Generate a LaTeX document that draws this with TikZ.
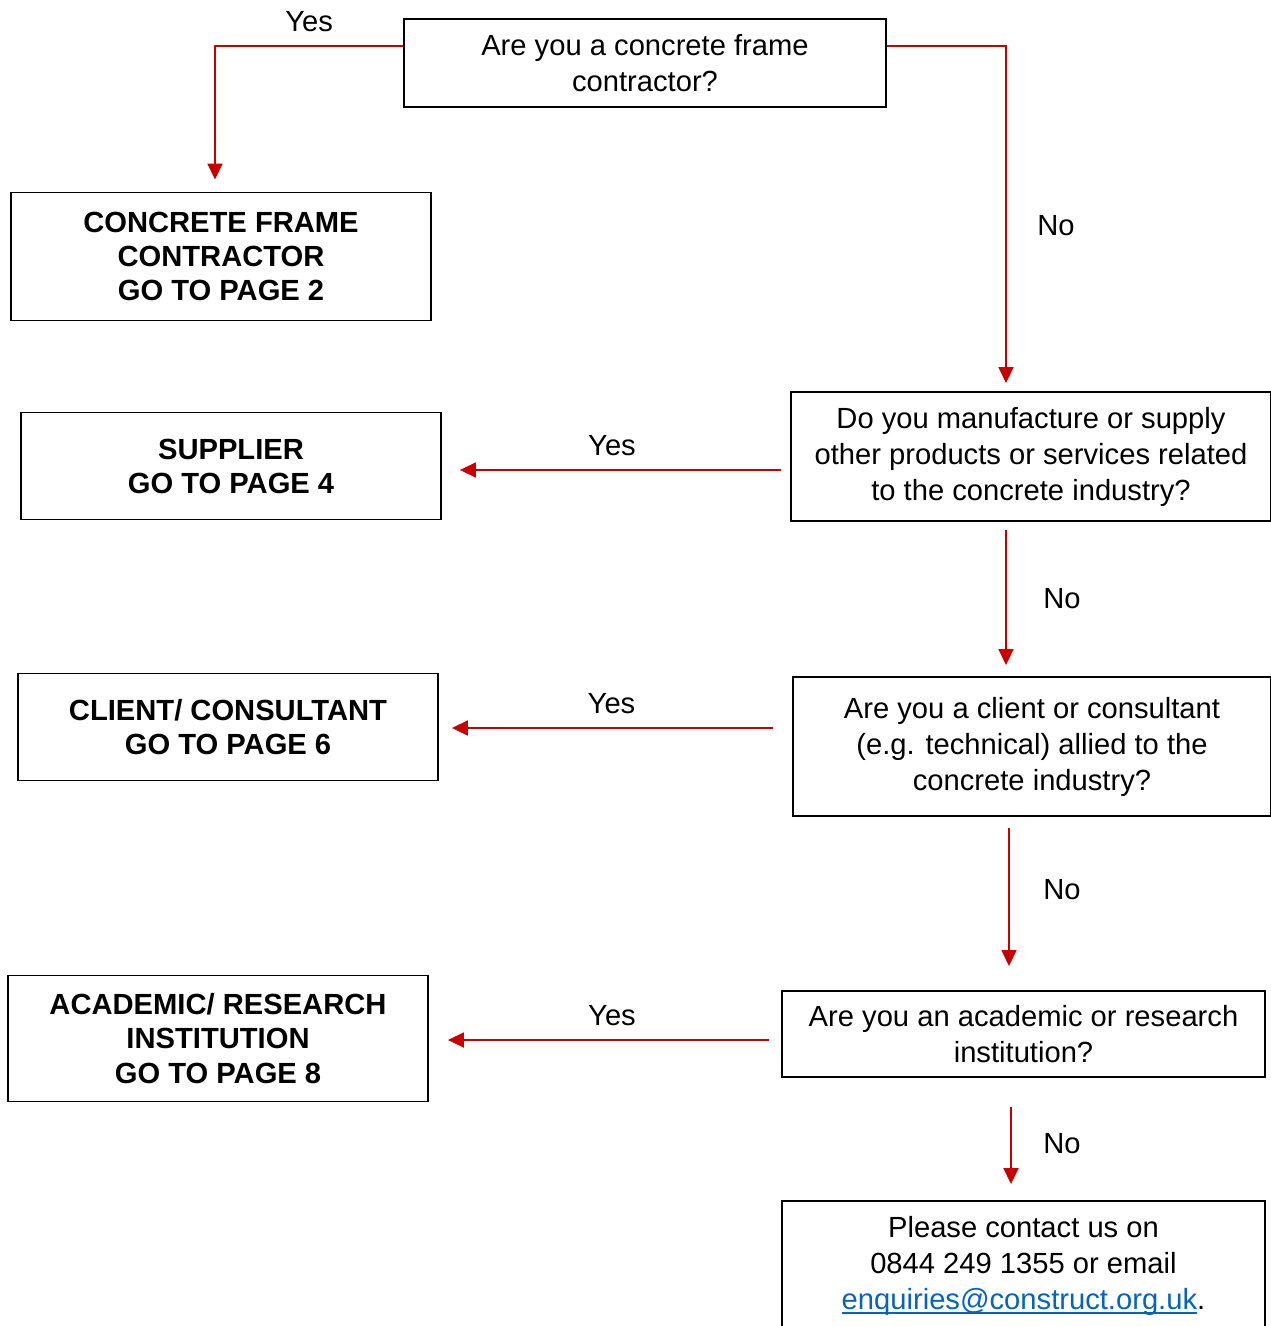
\documentclass[tikz,border=0pt]{standalone}
\usepackage{fontspec}
\setmainfont{Liberation Sans}
\usepackage{xcolor}
\usetikzlibrary{arrows.meta}
\definecolor{arrowred}{RGB}{200,0,0}
\definecolor{linkblue}{RGB}{5,99,193}
\newcommand\weblink[1]{\setbox0\hbox{#1}\rlap{\color{linkblue}\rule[-2.4pt]{\wd0}{1.1pt}}\textcolor{linkblue}{\box0}}

\begin{document}
\begin{tikzpicture}[x=0.02cm, y=-0.02cm,
font=\fontsize{16.6}{20.5}\selectfont,
box/.style={draw, line width=1.1pt, align=center, inner sep=0pt},
goto/.style={box, minimum width=8.4cm, font=\fontsize{16.6}{19.4}\selectfont\bfseries},
arr/.style={draw=arrowred, line width=1pt, -{Triangle[length=0.32cm, width=0.3cm]}},
]
\useasboundingbox (0,0) rectangle (1271,1326);
\clip (0,0) rectangle (1271,1326);

	\node[box, minimum width=9.64cm, minimum height=1.76cm] (q1) at (645,63) {Are you a concrete frame\\contractor?};
	\node[goto, minimum height=2.56cm] (a1) at (221,256.5) {CONCRETE FRAME\\CONTRACTOR\\GO TO PAGE 2};
	\node[box, minimum width=9.6cm, minimum height=2.58cm] (q2) at (1031,456.5) {Do you manufacture or supply\\other products or services related\\to the concrete industry?};
	\node[goto, minimum height=2.14cm] (a2) at (231,466) {SUPPLIER\\GO TO PAGE 4};
	\node[box, minimum width=9.56cm, minimum height=2.78cm] (q3) at (1032,746.5) {Are you a client or consultant\\(e.g. technical) allied to the\\concrete industry?};
	\node[goto, minimum height=2.14cm] (a3) at (228,727) {CLIENT/ CONSULTANT\\GO TO PAGE 6};
	\node[box, minimum width=9.66cm, minimum height=1.72cm] (q4) at (1023.5,1034) {Are you an academic or research\\institution?};
	\node[goto, minimum height=2.52cm] (a4) at (218,1038.5) {ACADEMIC/ RESEARCH\\INSTITUTION\\GO TO PAGE 8};
	\node[box, minimum width=9.66cm, minimum height=2.6cm] (q5) at (1023.5,1266) {Please contact us on\\0844 249 1355 or email\\\weblink{enquiries@construct.org.uk}.};

	\draw[arr, shorten >=0.24cm] (q1.west |- 0,46) -| ([xshift=-0.12cm]a1.north)
		node[pos=0.25, yshift=0.48cm, text=black] {Yes};
	\draw[arr, shorten >=0.16cm] (q1.east |- 0,46) -| ([xshift=-0.5cm]q2.north)
		node[pos=0.75, xshift=1cm, yshift=-0.14cm, text=black] {No};

	\draw[arr, shorten <=0.18cm, shorten >=0.36cm] (q2.west |- 0,470) -- (a2.east |- 0,470)
		node[midway, xshift=-0.08cm, yshift=0.48cm, text=black] {Yes};
	\draw[arr, shorten <=0.16cm, shorten >=0.22cm] ([xshift=-0.5cm]q2.south) -- ([xshift=-0.5cm]q2.south |- q3.north)
		node[midway, xshift=1.12cm, text=black] {No};

	\draw[arr, shorten <=0.38cm, shorten >=0.26cm] (q3.west |- 0,728) -- (a3.east |- 0,728)
		node[midway, xshift=-0.08cm, yshift=0.48cm, text=black] {Yes};
	\draw[arr, shorten <=0.22cm, shorten >=0.48cm] ([xshift=-0.46cm]q3.south) -- ([xshift=-0.46cm]q3.south |- q4.north)
		node[midway, xshift=1.06cm, yshift=0.28cm, text=black] {No};

	\draw[arr, shorten <=0.24cm, shorten >=0.38cm] (q4.west |- 0,1040) -- (a4.east |- 0,1040)
		node[midway, xshift=0.14cm, yshift=0.48cm, text=black] {Yes};
	\draw[arr, shorten <=0.58cm, shorten >=0.32cm] ([xshift=-0.25cm]q4.south) -- ([xshift=-0.25cm]q4.south |- q5.north)
		node[midway, xshift=1.02cm, yshift=-0.1cm, text=black] {No};
\end{tikzpicture}
\end{document}
